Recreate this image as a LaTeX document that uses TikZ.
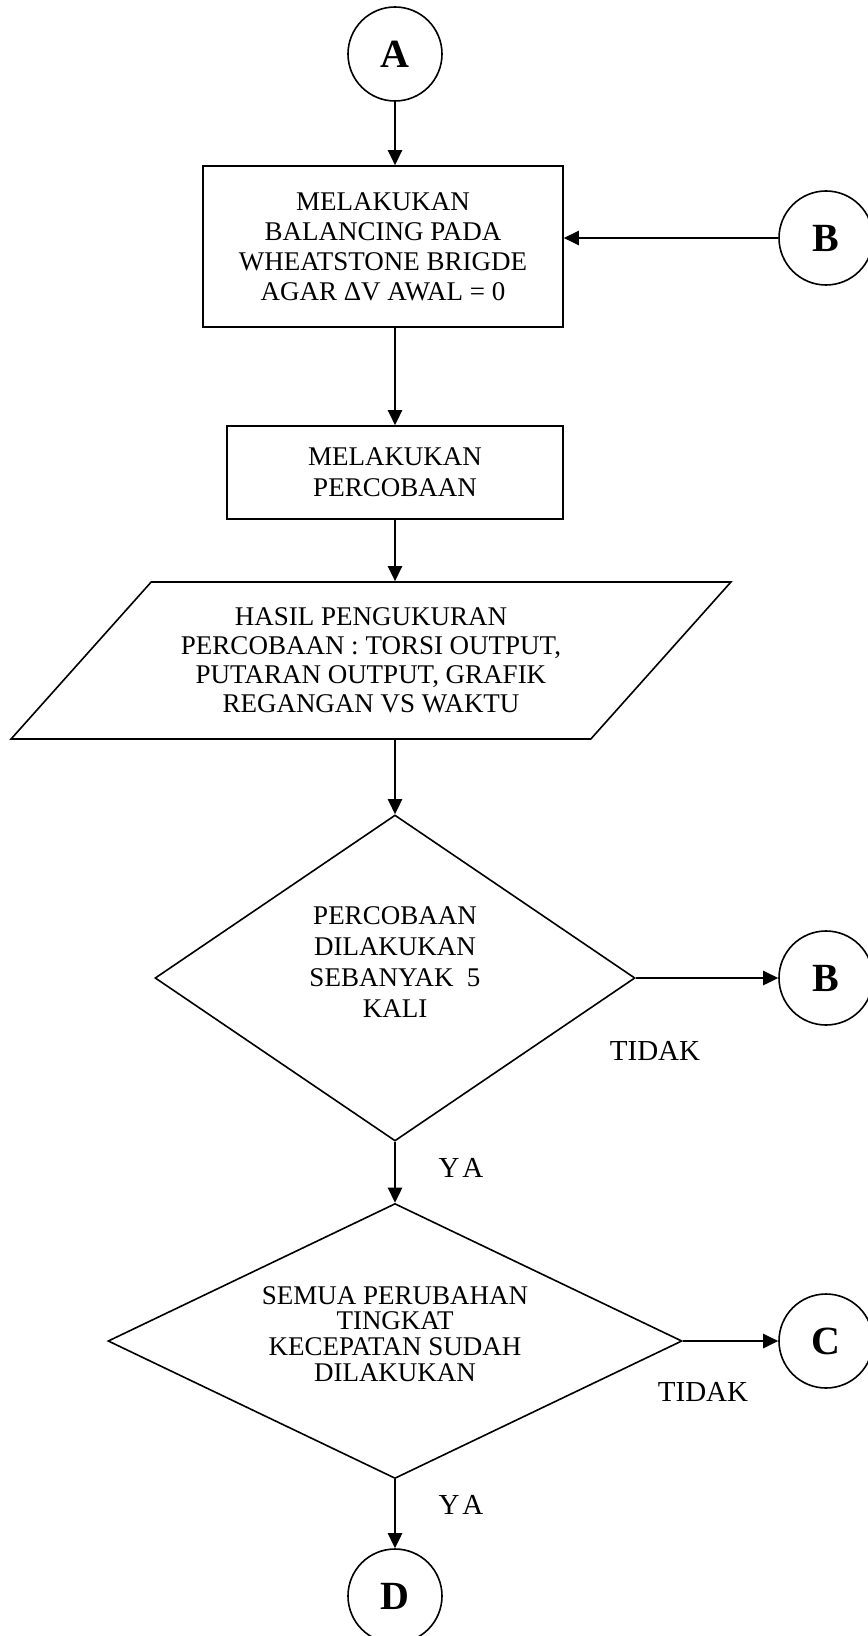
\documentclass[tikz,border=0pt]{standalone}
\usepackage{fontspec}
\setmainfont{Liberation Serif}
\usetikzlibrary{shapes.geometric,arrows.meta}

\begin{document}
\begin{tikzpicture}[x=0.5pt, y=-0.5pt,
  every node/.style={font=\fontsize{13.5}{15}\selectfont, align=center},
  proses/.style={draw, line width=0.8pt, inner sep=0pt},
  keputusan/.style={draw, diamond, line width=0.8pt, inner sep=0pt},
  konektor/.style={draw, circle, line width=0.8pt, minimum size=47pt, inner sep=0pt, font=\fontsize{20}{24}\selectfont\bfseries},
  panah/.style={line width=1.3pt, -{Triangle[length=7.5pt,width=7pt]}},
  ket/.style={font=\fontsize{14.5}{16}\selectfont}]
  \useasboundingbox (0,0) rectangle (867,1636);

  % konektor
  \node[konektor] (A) at (395,54) {A};
  \node[konektor] (B1) at (826,238) {B};
  \node[konektor] (B2) at (826,978) {B};
  \node[konektor] (C) at (826,1341) {C};
  \node[konektor] (D) at (395,1596) {D};

  % proses
  \node[proses, minimum width=180pt, minimum height=80.5pt] (balancing) at (383,246.5)
    {MELAKUKAN\\BALANCING PADA\\WHEATSTONE BRIGDE\\AGAR ΔV AWAL = 0};
  \node[proses, minimum width=168pt, minimum height=46.5pt, font=\fontsize{13.5}{15.5}\selectfont] (percobaan) at (395,472.5)
    {MELAKUKAN\\PERCOBAAN};
  \node[trapezium, draw, line width=0.8pt, inner sep=0pt, trapezium left angle=41, trapezium right angle=139,
    trapezium stretches=true, minimum width=361pt, minimum height=78.5pt, font=\fontsize{13.5}{14.5}\selectfont] (hasil) at (371,660.5)
    {HASIL PENGUKURAN\\PERCOBAAN : TORSI OUTPUT,\\PUTARAN OUTPUT, GRAFIK\\REGANGAN VS WAKTU};

  % keputusan
  \node[keputusan, aspect=1.47, minimum width=240pt, minimum height=163pt, font=\fontsize{13.5}{15.5}\selectfont] (ulang) at (395,978)
    {PERCOBAAN\\DILAKUKAN\\SEBANYAK~~5\\KALI\\[0pt]};
  \node[keputusan, aspect=2.09, minimum width=287pt, minimum height=137.5pt, font=\fontsize{13.5}{12.8}\selectfont] (semua) at (395,1341)
    {SEMUA PERUBAHAN\\TINGKAT\\KECEPATAN SUDAH\\DILAKUKAN\\[-5.5pt]};

  % keterangan
  \node[ket] (tidak1) at (655,1051) {TIDAK};
  \node[ket] (tidak2) at (703,1392) {TIDAK};
  \node[ket] (ya1) at (461,1168) {Y\kern1.5pt A};
  \node[ket] (ya2) at (461,1505) {Y\kern1.5pt A};

  % panah
  \draw[panah] (A.south) -- (A.south |- balancing.north);
  \draw[panah] (B1.west) -- (B1.west -| balancing.east);
  \draw[panah] (percobaan.north |- balancing.south) -- (percobaan.north);
  \draw[panah] (percobaan.south) -- (percobaan.south |- hasil.north);
  \draw[panah] (ulang.north |- hasil.south) -- (ulang.north);
  \draw[panah] (ulang.east) -- (B2.west);
  \draw[panah] (ulang.south) -- (semua.north);
  \draw[panah] (semua.east) -- (C.west);
  \draw[panah] (semua.south) -- (D.north);
\end{tikzpicture}
\end{document}
